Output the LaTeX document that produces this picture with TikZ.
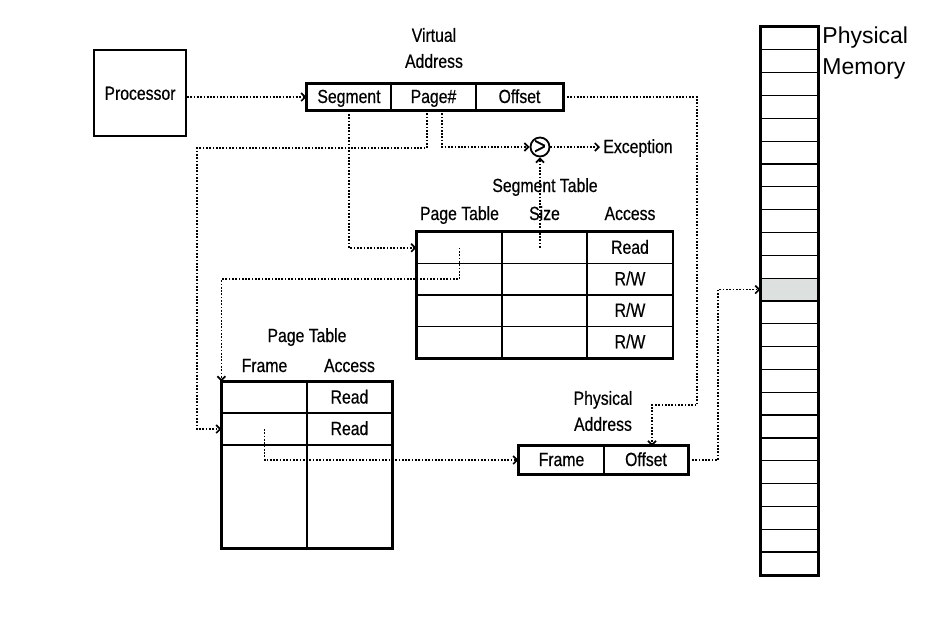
\documentclass[tikz,border=0pt]{standalone}
\usepackage{fontspec}
\usetikzlibrary{arrows.meta}
\newfontfamily\condfont[FakeStretch=0.83,FakeBold=0.5]{Liberation Sans}
\newfontfamily\memfont{Liberation Sans}
\definecolor{memgrey}{HTML}{DCE0DF}
\tikzstyle{cell}=[draw, line width=0.6pt, minimum width=42.5pt, minimum height=15.75pt, inner sep=0pt, text height=6.8pt, text depth=0.8pt]
\tikzstyle{vcell}=[draw, line width=0.6pt, minimum height=13pt, inner sep=0pt, text height=6.8pt, text depth=0.8pt]
\tikzstyle{memcell}=[draw, line width=0.6pt, minimum width=28.5pt, minimum height=11.4pt, inner sep=0pt]
\tikzstyle{frame}=[draw, line width=1pt]
\tikzstyle{lbl}=[inner sep=0pt, text height=6.8pt, text depth=0.8pt]
\tikzstyle{lbl2}=[inner sep=0pt, align=center]
\tikzstyle{ptr}=[line width=0.85pt, dash pattern=on 0.85pt off 0.8pt, -{Straight Barb[length=2pt,width=4pt]}]

\begin{document}
\begin{tikzpicture}[x=0.5pt, y=-0.5pt, font=\condfont\fontsize{9.5}{13}\selectfont]
\useasboundingbox (0,0) rectangle (942,618);

% processor and virtual address
\node[frame, minimum width=46pt, minimum height=43pt, text height=6.8pt, text depth=0pt] (proc) at (140,93) {Processor};
\node[lbl2] (valbl) at (434,48) {Virtual\\Address};
\node[vcell, minimum width=42pt] (va-seg) at (349,97) {Segment};
\node[vcell, minimum width=42.5pt] (va-pg) at (433.5,97) {Page\#};
\node[vcell, minimum width=43.5pt] (va-off) at (519.5,97) {Offset};
\draw[frame] (va-seg.north west) rectangle (va-off.south east);

% comparator
\node[circle, draw, line width=0.9pt, minimum size=9.5pt, inner sep=0pt, font=\condfont\fontsize{12}{12}\selectfont] (cmp) at (540,147) {>};
\node[lbl, anchor=west, inner xsep=1.5pt] (exc) at (600,147) {Exception};

% segment table
\node[lbl] (stlbl) at (545,186) {Segment Table};
\node[lbl] (st-h1) at (459.5,214) {Page Table};
\node[lbl] (st-h2) at (544.5,214) {Size};
\node[lbl] (st-h3) at (630,214) {Access};
\node[cell] (st-pt1) at (459.5,247.75) {};
\node[cell] (st-sz1) at (544.5,247.75) {};
\node[cell] (st-ac1) at (630,247.75) {Read};
\node[cell] (st-pt2) at (459.5,279.25) {};
\node[cell] (st-sz2) at (544.5,279.25) {};
\node[cell] (st-ac2) at (630,279.25) {R/W};
\node[cell] (st-pt3) at (459.5,310.75) {};
\node[cell] (st-sz3) at (544.5,310.75) {};
\node[cell] (st-ac3) at (630,310.75) {R/W};
\node[cell] (st-pt4) at (459.5,342.25) {};
\node[cell] (st-sz4) at (544.5,342.25) {};
\node[cell] (st-ac4) at (630,342.25) {R/W};
\draw[frame] (st-pt1.north west) rectangle (st-ac4.south east);

% page table
\node[lbl] (ptlbl) at (307,336) {Page Table};
\node[lbl] (pt-h1) at (264.5,366) {Frame};
\node[lbl] (pt-h2) at (349.5,366) {Access};
\node[cell, minimum height=15.5pt] (pt-f1) at (264.5,397.5) {};
\node[cell, minimum height=15.5pt] (pt-a1) at (349.5,397.5) {Read};
\node[cell, minimum height=16pt] (pt-f2) at (264.5,429) {};
\node[cell, minimum height=16pt] (pt-a2) at (349.5,429) {Read};
\node[cell, minimum height=51.5pt] (pt-f3) at (264.5,496.5) {};
\node[cell, minimum height=51.5pt] (pt-a3) at (349.5,496.5) {};
\draw[frame] (pt-f1.north west) rectangle (pt-a3.south east);

% physical address
\node[lbl2] (palbl) at (603,411) {Physical\\Address};
\node[vcell, minimum width=42.5pt, minimum height=14pt] (pa-fr) at (561.5,460) {Frame};
\node[vcell, minimum width=42pt, minimum height=14pt] (pa-off) at (646,460) {Offset};
\draw[frame] (pa-fr.north west) rectangle (pa-off.south east);

% physical memory
\foreach \i in {0,...,23}{
  \ifnum\i=11 \def\mfill{memgrey}\else\def\mfill{white}\fi
  \node[memcell, fill=\mfill] (mem\i) at (789.5,{38.4+\i*22.83}) {};
}
\draw[frame] (mem0.north west) rectangle (mem23.south east);
\node[inner sep=0pt, align=left, anchor=west, font=\memfont\fontsize{11.5}{15.5}\selectfont] (memlbl) at (822,53) {Physical\\Memory};

% bend points
\coordinate (pgL) at (427,110);
\coordinate (pgR) at (442,110);
\coordinate (ptL) at (197,148);
\coordinate (offR) at (697,405);
\coordinate (pa-in) at (652,446);
\coordinate (memIn) at (718,0);

% pointers
\draw[ptr] (proc.east |- va-seg) -- (va-seg.west);
\draw[ptr] (va-seg.south) |- (st-pt1.west);
\draw[ptr] (pgL) |- (ptL) |- (pt-f2.west);
\draw[ptr] (pgR) |- (cmp.west);
\draw[ptr] (cmp.east) -- (exc.west);
\draw[ptr] (cmp |- st-sz1) -- (cmp.south);
\draw[ptr] (st-pt1.center) -- (st-pt1.center |- st-pt2) -| (pt-f1.north west);
\draw[ptr] (pt-f2.center) |- (pa-fr.west);
\draw[ptr] (va-off.east) -| (offR) -| (pa-in);
\draw[ptr] (pa-off.east) -| (memIn |- mem11) -- (mem11.west);

\end{tikzpicture}
\end{document}
